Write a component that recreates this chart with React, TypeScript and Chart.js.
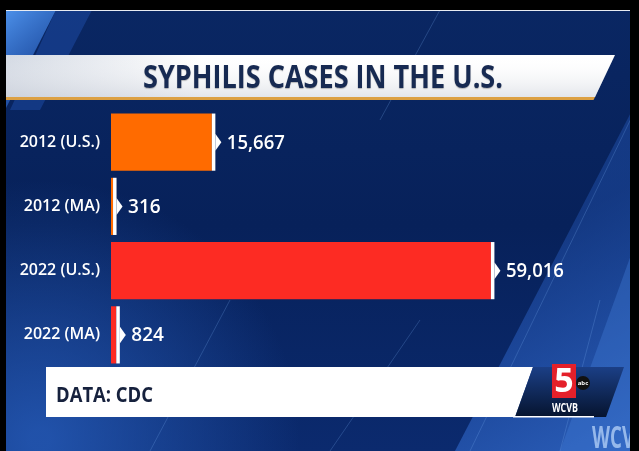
import { useEffect, useRef } from "react";
import { Chart, registerables } from "chart.js";

Chart.register(...registerables);

const categories = ["2012 (U.S.)", "2012 (MA)", "2022 (U.S.)", "2022 (MA)"];
const cases = [15667, 316, 59016, 824];
const barColors = ["#ff6b00", "#ff6b00", "#fd2b23", "#fd2b23"];
const titleText = "SYPHILIS CASES IN THE U.S.";
const sourceText = "DATA: CDC";
const stationText = "WCVB";
const watermarkText = "WCV";

const W = 639;
const H = 451;
const SANS = "'Open Sans', 'Noto Sans', sans-serif";

const backgroundPlugin = {
  id: "tvBackground",
  beforeDraw(chart: any) {
    const ctx: CanvasRenderingContext2D = chart.ctx;
    ctx.save();
    const g = ctx.createLinearGradient(0, 0, 0, H);
    g.addColorStop(0, "#0a2763");
    g.addColorStop(0.5, "#07215a");
    g.addColorStop(1, "#0b2a6e");
    ctx.fillStyle = g;
    ctx.fillRect(0, 0, W, H);

    const rg = ctx.createRadialGradient(40, 440, 10, 40, 440, 260);
    rg.addColorStop(0, "rgba(40,95,190,0.75)");
    rg.addColorStop(1, "rgba(40,95,190,0)");
    ctx.fillStyle = rg;
    ctx.fillRect(0, 0, W, H);

    ctx.beginPath();
    ctx.moveTo(640, 95);
    ctx.lineTo(640, 451);
    ctx.lineTo(455, 451);
    ctx.closePath();
    const lg = ctx.createLinearGradient(640, 451, 520, 250);
    lg.addColorStop(0, "rgba(50,105,200,0.85)");
    lg.addColorStop(1, "rgba(35,85,180,0.45)");
    ctx.fillStyle = lg;
    ctx.fill();

    ctx.beginPath();
    ctx.moveTo(640, 230);
    ctx.lineTo(640, 451);
    ctx.lineTo(560, 451);
    ctx.closePath();
    ctx.fillStyle = "rgba(70,130,220,0.35)";
    ctx.fill();

    ctx.beginPath();
    ctx.moveTo(6, 10);
    ctx.lineTo(56, 10);
    ctx.lineTo(6, 108);
    ctx.closePath();
    const tg = ctx.createLinearGradient(6, 10, 50, 60);
    tg.addColorStop(0, "rgba(80,150,240,0.95)");
    tg.addColorStop(1, "rgba(50,110,210,0.6)");
    ctx.fillStyle = tg;
    ctx.fill();

    ctx.beginPath();
    ctx.moveTo(56, 10);
    ctx.lineTo(92, 10);
    ctx.lineTo(40, 110);
    ctx.lineTo(10, 110);
    ctx.closePath();
    ctx.fillStyle = "rgba(40,95,200,0.35)";
    ctx.fill();

    ctx.strokeStyle = "rgba(120,170,240,0.25)";
    ctx.lineWidth = 1;
    const lines = [
      [640, 100, 470, 451],
      [600, 300, 560, 451],
      [330, 451, 420, 320],
      [150, 451, 230, 300],
      [440, 10, 380, 120],
    ];
    for (const [x1, y1, x2, y2] of lines) {
      ctx.beginPath();
      ctx.moveTo(x1, y1);
      ctx.lineTo(x2, y2);
      ctx.stroke();
    }

    ctx.beginPath();
    ctx.moveTo(6, 55);
    ctx.lineTo(615, 55);
    ctx.lineTo(595, 97);
    ctx.lineTo(6, 97);
    ctx.closePath();
    const bg = ctx.createLinearGradient(6, 0, 200, 0);
    bg.addColorStop(0, "#d3d9e3");
    bg.addColorStop(1, "#ffffff");
    ctx.fillStyle = bg;
    ctx.fill();
    const vg = ctx.createLinearGradient(0, 55, 0, 97);
    vg.addColorStop(0, "rgba(255,255,255,0)");
    vg.addColorStop(1, "rgba(200,205,215,0.5)");
    ctx.fillStyle = vg;
    ctx.fill();

    ctx.beginPath();
    ctx.moveTo(6, 97);
    ctx.lineTo(595, 97);
    ctx.lineTo(593.5, 100);
    ctx.lineTo(6, 100);
    ctx.closePath();
    ctx.fillStyle = "#dca043";
    ctx.fill();

    ctx.fillStyle = "#172a52";
    ctx.font = `bold 32px ${SANS}`;
    ctx.textAlign = "center";
    ctx.textBaseline = "alphabetic";
    ctx.shadowColor = "rgba(0,0,0,0.25)";
    ctx.shadowOffsetY = 1;
    ctx.shadowBlur = 1;
    ctx.fillText(titleText, 323, 88, 360);
    ctx.restore();
  },
  afterDatasetsDraw(chart: any) {
    const ctx: CanvasRenderingContext2D = chart.ctx;
    const meta = chart.getDatasetMeta(0);
    const values: number[] = chart.data.datasets[0].data;
    ctx.save();
    meta.data.forEach((bar: any, i: number) => {
      const xEnd = bar.x;
      const cy = bar.y;
      const h = bar.height;
      ctx.fillStyle = "#ffffff";
      ctx.fillRect(xEnd, cy - h / 2, 3.5, h);
      ctx.beginPath();
      ctx.moveTo(xEnd + 3.5, cy - 8.5);
      ctx.lineTo(xEnd + 9.5, cy);
      ctx.lineTo(xEnd + 3.5, cy + 8.5);
      ctx.closePath();
      ctx.fill();
      ctx.font = `600 19px ${SANS}`;
      ctx.textAlign = "left";
      ctx.textBaseline = "middle";
      ctx.fillText(values[i].toLocaleString("en-US"), xEnd + 15, cy + 1, 58);
    });
    ctx.restore();
  },
  afterDraw(chart: any) {
    const ctx: CanvasRenderingContext2D = chart.ctx;
    ctx.save();
    ctx.beginPath();
    ctx.moveTo(46, 367);
    ctx.lineTo(533, 367);
    ctx.lineTo(515, 417);
    ctx.lineTo(46, 417);
    ctx.closePath();
    ctx.fillStyle = "#ffffff";
    ctx.fill();

    ctx.fillStyle = "#16213d";
    ctx.font = `bold 21px ${SANS}`;
    ctx.textAlign = "left";
    ctx.textBaseline = "alphabetic";
    ctx.fillText(sourceText, 56, 402, 97);

    ctx.beginPath();
    ctx.moveTo(533, 367);
    ctx.lineTo(624, 367);
    ctx.lineTo(606, 417);
    ctx.lineTo(515, 417);
    ctx.closePath();
    const pg = ctx.createLinearGradient(0, 367, 0, 417);
    pg.addColorStop(0, "#1b3f86");
    pg.addColorStop(1, "#06142f");
    ctx.fillStyle = pg;
    ctx.fill();
    ctx.fillStyle = "#ffffff";
    ctx.fillRect(513, 416, 81, 1.5);

    ctx.fillStyle = "#e4202a";
    ctx.fillRect(552, 364, 24, 34);
    ctx.fillStyle = "#ffffff";
    ctx.font = `bold 34px ${SANS}`;
    ctx.textAlign = "center";
    ctx.textBaseline = "middle";
    ctx.fillText("5", 564, 382, 20);
    ctx.fillStyle = "#111111";
    ctx.beginPath();
    ctx.arc(583, 383, 7, 0, Math.PI * 2);
    ctx.fill();
    ctx.fillStyle = "#ffffff";
    ctx.font = `bold 6px ${SANS}`;
    ctx.fillText("abc", 583, 383.5, 11);
    ctx.font = `bold 12px ${SANS}`;
    ctx.fillText(stationText, 565, 409, 26);

    ctx.fillStyle = "rgba(175,205,245,0.8)";
    ctx.font = `bold 30px ${SANS}`;
    ctx.textAlign = "left";
    ctx.textBaseline = "alphabetic";
    ctx.fillText(watermarkText, 592, 448, 42);

    ctx.fillStyle = "#000000";
    ctx.fillRect(0, 0, W, 10);
    ctx.fillRect(0, 0, 6, H);
    ctx.fillRect(630, 0, W - 630, H);
    ctx.fillStyle = "#e8ecf2";
    ctx.fillRect(6, 10, 624, 1);
    ctx.restore();
  },
};

export default function App() {
  const canvasRef = useRef<HTMLCanvasElement | null>(null);

  useEffect(() => {
    const canvas = canvasRef.current;
    if (!canvas) return;
    const chart = new Chart(canvas, {
      type: "bar",
      data: {
        labels: categories,
        datasets: [
          {
            data: cases,
            backgroundColor: barColors,
            borderWidth: 0,
            barPercentage: 0.89,
            categoryPercentage: 1,
          },
        ],
      },
      options: {
        indexAxis: "y",
        animation: false,
        responsive: false,
        devicePixelRatio: 1,
        layout: { padding: { left: 0, right: 13, top: 110, bottom: 84 } },
        plugins: {
          legend: { display: false },
          tooltip: { enabled: false },
          title: { display: false },
        },
        scales: {
          x: { display: false, min: 0, max: 80000 },
          y: {
            display: true,
            grid: { display: false, drawTicks: false },
            border: { display: false },
            ticks: {
              color: "#ffffff",
              padding: 11,
              font: { family: SANS, size: 16, weight: "600" },
            },
            afterFit(scale: any) {
              scale.width = 111;
            },
          },
        },
      } as any,
      plugins: [backgroundPlugin],
    });
    return () => chart.destroy();
  }, []);

  return (
    <div style={{ position: "fixed", left: 0, top: 0, width: W, height: H }}>
      <canvas ref={canvasRef} width={W} height={H} style={{ display: "block" }} />
    </div>
  );
}
